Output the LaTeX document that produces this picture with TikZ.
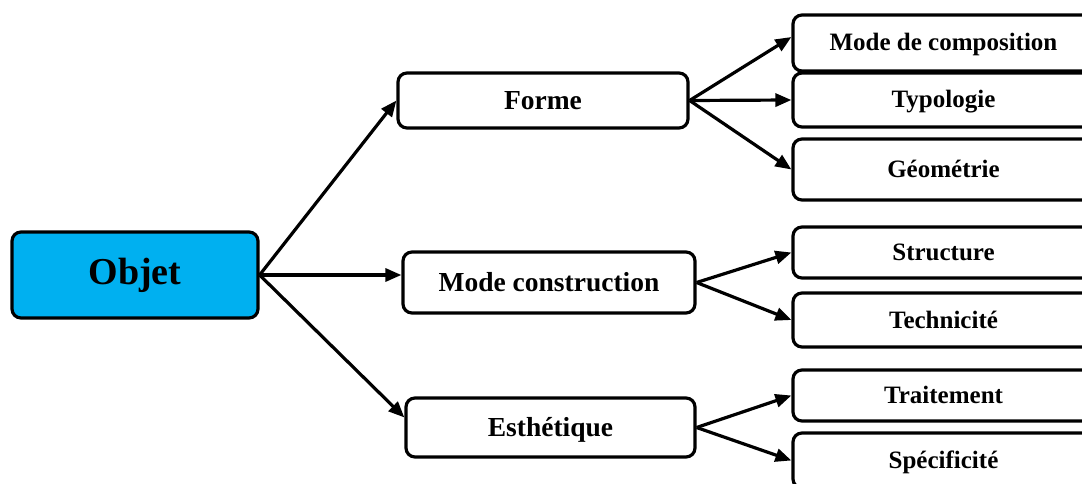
\documentclass[tikz,border=0pt]{standalone}
\usepackage{fontspec}
\setmainfont{Liberation Serif}
\usetikzlibrary{arrows.meta}
\definecolor{objblue}{HTML}{00B0F0}
\begin{document}
\begin{tikzpicture}[x=1pt,y=-1pt,
  box/.style={draw=black,line width=3.2pt,rounded corners=9pt,fill=white,
    inner sep=0pt,align=center},
  rootbox/.style={box,fill=objblue,minimum width=246pt,minimum height=86pt,
    font=\fontsize{38}{44}\selectfont\bfseries,text height=26pt,text depth=7pt},
  midbox/.style={box,font=\fontsize{27.5}{32}\selectfont\bfseries,
    text height=19pt,text depth=1.5pt},
  leafbox/.style={box,minimum width=301pt,font=\fontsize{25}{30}\selectfont\bfseries,
    text height=17pt,text depth=1pt},
  arr/.style={draw=black,line width=3.2pt,-{Triangle[length=16pt,width=13pt]}}
]
\useasboundingbox (0,0) rectangle (1082,484);
\clip (0,0) rectangle (1082,484);

% root
\node[rootbox] (objet) at (135,275) {Objet};

% second level
\node[midbox,minimum width=290pt,minimum height=55pt] (forme) at (543,100.5) {Forme};
\node[midbox,minimum width=292pt,minimum height=61pt] (mc) at (549,282.5) {Mode construction};
\node[midbox,minimum width=289pt,minimum height=59pt] (esth) at (550.5,427.5) {Esthétique};

% leaves
\node[leafbox,minimum height=56pt] (mdc) at (943.5,43) {Mode de composition};
\node[leafbox,minimum height=54pt] (typo) at (943.5,100) {Typologie};
\node[leafbox,minimum height=61pt] (geo) at (943.5,169.5) {Géométrie};
\node[leafbox,minimum height=51pt] (struct) at (943.5,252.5) {Structure};
\node[leafbox,minimum height=54pt] (tech) at (943.5,320) {Technicité};
\node[leafbox,minimum height=51pt] (trait) at (943.5,395.5) {Traitement};
\node[leafbox,minimum height=55pt] (spec) at (943.5,460.5) {Spécificité};

% connectors from the root
\draw[arr] (objet.east) -- (forme.west);
\draw[arr] (objet.east) -- (objet.east -| mc.west);
\draw[arr] (objet.east) -- ([yshift=10pt]esth.west);

% connectors to the leaves
\draw[arr] (forme.east) -- ([yshift=6pt]mdc.west);
\draw[arr] (forme.east) -- (typo.west);
\draw[arr] (forme.east) -- (geo.west);
\draw[arr] (mc.east) -- (struct.west);
\draw[arr] (mc.east) -- (tech.west);
\draw[arr] (esth.east) -- (trait.west);
\draw[arr] (esth.east) -- (spec.west);
\end{tikzpicture}
\end{document}
